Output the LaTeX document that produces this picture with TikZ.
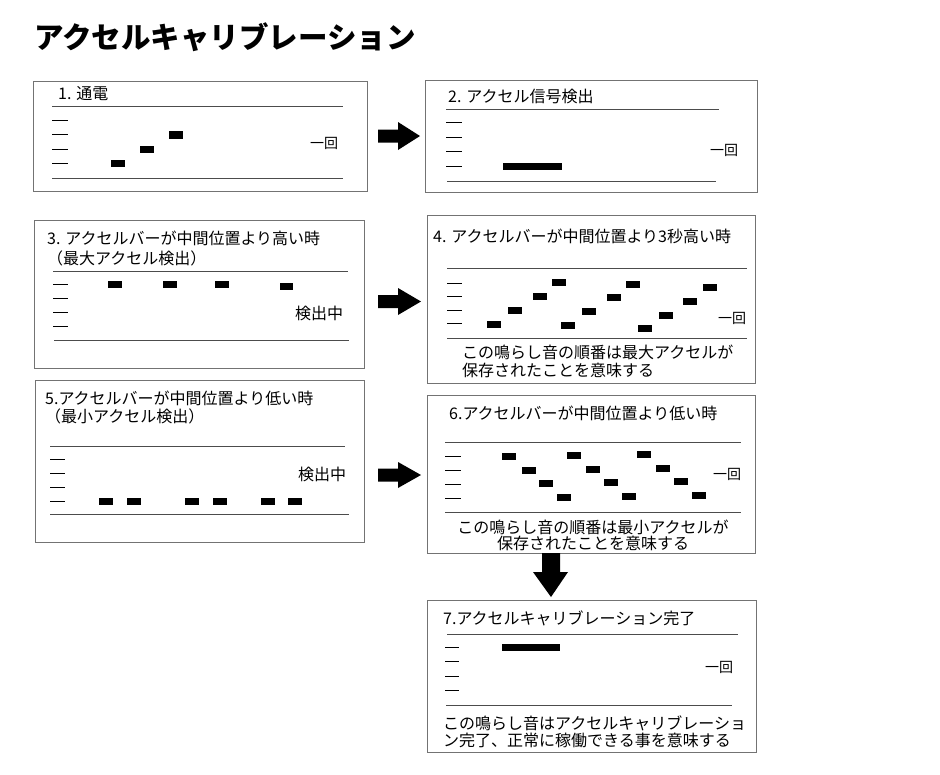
\documentclass[tikz,border=0pt]{standalone}
\usepackage{fontspec}
\setmainfont{Noto Sans CJK JP}
\begin{document}
\begin{tikzpicture}[x=1pt,y=-1pt,
  panel/.style={draw=black!55,line width=0.9pt},
  rule/.style={draw=black!70,line width=0.9pt},
  tick/.style={draw=black,line width=1pt},
  txt/.style={anchor=west,inner sep=0pt,font=\fontsize{16}{18}\selectfont},
  ctxt/.style={anchor=center,inner sep=0pt,font=\fontsize{16}{18}\selectfont},
  once/.style={anchor=west,inner sep=0pt,font=\fontsize{14}{16}\selectfont},
  blk/.style={fill=black}]
\useasboundingbox (0,0) rectangle (940,774);
\fill[white] (0,0) rectangle (940,774);

\node[anchor=west,inner sep=0pt,font=\fontsize{29.5}{32}\selectfont\bfseries] (title) at (34,37) {アクセルキャリブレーション};

% ---- Box 1
\draw[panel] (33,81) rectangle (367,191);
\node[txt] (t1) at (58,94) {1. 通電};
\draw[rule] (52,106) -- (343,106);
\draw[rule] (52,178) -- (343,178);
\foreach \y in {120,134,149,163} \draw[tick] (52,\y) -- (68,\y);
\fill[blk] (111,160) rectangle (125,167);
\fill[blk] (140,146) rectangle (154,153);
\fill[blk] (169,131) rectangle (183,139);
\node[once] (o1) at (310,143) {一回};

% arrow 1
\fill[blk] (378,129.5) -- (398,129.5) -- (398,122) -- (420,136) -- (398,150) -- (398,142.5) -- (378,142.5) -- cycle;

% ---- Box 2
\draw[panel] (425,80) rectangle (757,192);
\node[txt] (t2) at (448,96) {2. アクセル信号検出};
\draw[rule] (446,109) -- (719,109);
\draw[rule] (447,181) -- (716,181);
\foreach \y in {122,137,151,166} \draw[tick] (446,\y) -- (462,\y);
\fill[blk] (503,163) rectangle (562,170);
\node[once] (o2) at (710,150) {一回};

% ---- Box 3
\draw[panel] (34,220) rectangle (364,368);
\node[txt] (t3a) at (47,238) {3. アクセルバーが中間位置より高い時};
\node[txt] (t3b) at (47,258) {（最大アクセル検出）};
\draw[rule] (53,271) -- (348,271);
\draw[rule] (54,340) -- (349,340);
\foreach \y in {284,298,312,326} \draw[tick] (53,\y) -- (68,\y);
\fill[blk] (108,281) rectangle (122,288);
\fill[blk] (163,281) rectangle (177,288);
\fill[blk] (215,281) rectangle (229,288);
\fill[blk] (280,283) rectangle (293,290);
\node[txt] (d3) at (295,313) {検出中};

% arrow 2
\fill[blk] (378,295) -- (398,295) -- (398,288) -- (421,301.5) -- (398,315) -- (398,308) -- (378,308) -- cycle;

% ---- Box 4
\draw[panel] (427,215) rectangle (755,383);
\node[txt] (t4) at (433,236) {4. アクセルバーが中間位置より3秒高い時};
\draw[rule] (447,268) -- (747,268);
\draw[rule] (447,338) -- (747,338);
\foreach \y in {283,296,310,323} \draw[tick] (447,\y) -- (462,\y);
\foreach \xa/\ya in {487/321,508/307,533/293,552/279,561/322,582/308,607/294,626/281,638/325,659/312,683/298,703/284}
  \fill[blk] (\xa,\ya) rectangle ++(14,7);
\node[once] (o4) at (718,318) {一回};
\node[txt] (n4a) at (462,352) {この鳴らし音の順番は最大アクセルが};
\node[txt] (n4b) at (462,370) {保存されたことを意味する};

% ---- Box 5
\draw[panel] (35,380) rectangle (364,542);
\node[txt] (t5a) at (45,398) {5.アクセルバーが中間位置より低い時};
\node[txt] (t5b) at (45,416) {（最小アクセル検出）};
\draw[rule] (50,446) -- (345,446);
\draw[rule] (50,514) -- (349,514);
\foreach \y in {459,473,487,501} \draw[tick] (50,\y) -- (65,\y);
\foreach \xa in {99,127,185,213,261,288}
  \fill[blk] (\xa,498) rectangle ++(13.5,6.5);
\node[txt] (d5) at (298,474) {検出中};

% arrow 3
\fill[blk] (378,468.5) -- (398,468.5) -- (398,462) -- (421,475) -- (398,488) -- (398,481.5) -- (378,481.5) -- cycle;

% ---- Box 6
\draw[panel] (427,395) rectangle (755,553);
\node[txt] (t6) at (449,413) {6.アクセルバーが中間位置より低い時};
\draw[rule] (445,442) -- (741,442);
\draw[rule] (445,512) -- (741,512);
\foreach \y in {456,470,484,498} \draw[tick] (445,\y) -- (461,\y);
\foreach \xa/\ya in {502/453,522/467,539/480,557/494,567/452,586/466,604/479,622/493,637/451,656/465,674/478,692/492}
  \fill[blk] (\xa,\ya) rectangle ++(14,7);
\node[once] (o6) at (713,474) {一回};
\node[ctxt] (n6a) at (593,527) {この鳴らし音の順番は最小アクセルが};
\node[ctxt] (n6b) at (593,543) {保存されたことを意味する};

% down arrow
\fill[blk] (542,553) -- (560,553) -- (560,572) -- (568,572) -- (551,597) -- (533,572) -- (542,572) -- cycle;

% ---- Box 7
\draw[panel] (427,600) rectangle (756,752);
\node[txt] (t7) at (443,618) {7.アクセルキャリブレーション完了};
\draw[rule] (447,634) -- (738,634);
\draw[rule] (446,705) -- (732,705);
\foreach \y in {647,661,676,690} \draw[tick] (445,\y) -- (459,\y);
\fill[blk] (502,644) rectangle (560,651);
\node[once] (o7) at (705,667) {一回};
\node[txt] (n7a) at (443,723) {この鳴らし音はアクセルキャリブレーショ};
\node[txt] (n7b) at (443,740) {ン完了、正常に稼働できる事を意味する};
\end{tikzpicture}
\end{document}
